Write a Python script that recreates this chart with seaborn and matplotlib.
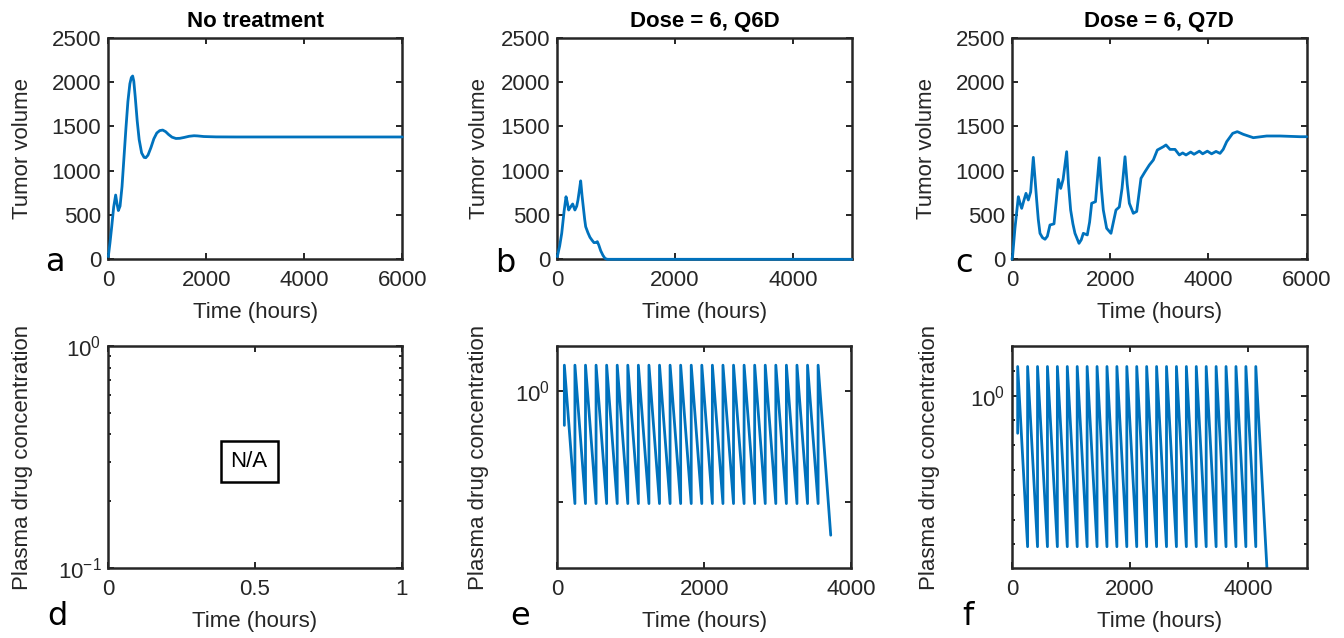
import numpy as np
import pandas as pd
import matplotlib
matplotlib.use("Agg")
import matplotlib.pyplot as plt
import seaborn as sns
from matplotlib.ticker import FixedLocator, NullLocator, NullFormatter

# ---------------- data ----------------
# (a) no treatment: tumor volume
a_time = [0, 35, 70, 110, 150, 180, 205, 240, 280, 320, 360, 400, 440, 470, 497,
          520, 550, 590, 630, 680, 730, 765, 810, 870, 930, 990, 1050, 1110, 1170,
          1230, 1300, 1380, 1460, 1550, 1650, 1750, 1820, 1950, 2200, 2600, 3200,
          4000, 5000, 6000]
a_volume = [30, 190, 370, 590, 725, 620, 550, 600, 820, 1150, 1480, 1780, 1980, 2050, 2068,
            2010, 1830, 1560, 1350, 1200, 1150, 1146, 1175, 1260, 1360, 1425, 1452, 1458, 1440,
            1408, 1378, 1363, 1365, 1375, 1388, 1394, 1392, 1385, 1381, 1380, 1380,
            1380, 1380, 1380]

# (b) dose = 6, Q6D: tumor volume
b_time = [0, 40, 75, 115, 148, 170, 193, 225, 261, 299, 330, 351, 375, 397, 420,
          441, 465, 482, 520, 555, 590, 623, 655, 680, 705, 737, 775, 810, 850, 2000, 5000]
b_volume = [30, 150, 293, 540, 706, 640, 556, 590, 624, 556, 600, 669, 780, 885, 720,
            593, 450, 368, 300, 248, 215, 188, 190, 199, 160, 97, 45, 10, 0, 0, 0]

# (c) dose = 6, Q7D: tumor volume
c_time = [0, 14, 60, 129, 165, 197, 240, 285, 332, 380, 434, 470, 502, 535, 570, 620,
          672, 720, 773, 855, 900, 943, 991, 1040, 1113, 1150, 1194, 1240, 1282, 1364,
          1410, 1452, 1533, 1580, 1622, 1700, 1777, 1820, 1859, 1927, 2015, 2117,
          2185, 2240, 2301, 2345, 2389, 2470, 2539, 2626, 2708, 2796, 2877, 2959,
          3081, 3135, 3217, 3319, 3407, 3475, 3543, 3638, 3706, 3814, 3882, 3977,
          4064, 4154, 4235, 4300, 4371, 4493, 4587, 4709, 4913, 5185, 5457, 5864, 6000]
c_volume = [0, 48, 350, 706, 630, 575, 660, 744, 669, 760, 1150, 900, 669, 450, 293, 245,
            226, 260, 387, 400, 650, 902, 800, 900, 1214, 850, 556, 400, 293, 180,
            220, 293, 275, 420, 632, 650, 1146, 800, 556, 350, 293, 556,
            590, 800, 1157, 850, 632, 519, 540, 913, 988, 1064, 1120, 1233,
            1270, 1290, 1240, 1240, 1177, 1200, 1177, 1210, 1185, 1220, 1190, 1220,
            1190, 1217, 1195, 1240, 1327, 1421, 1440, 1410, 1372, 1391, 1391, 1383, 1383]

# (e) dose = 6, Q6D: plasma drug concentration (sawtooth, one jump per dose)
e_dose_times = [96, 240, 384, 528, 672, 816, 960, 1104, 1248, 1392, 1536, 1680, 1824,
                1968, 2112, 2256, 2400, 2544, 2688, 2832, 2976, 3120, 3264, 3408, 3552]
e_start = 0.70
e_peak = 1.31
e_trough = 0.31
e_end_time = 3724
e_end = 0.223

# (f) dose = 6, Q7D: plasma drug concentration
f_dose_times = [96, 264, 432, 600, 768, 936, 1104, 1272, 1440, 1608, 1776, 1944, 2112,
                2280, 2448, 2616, 2784, 2952, 3120, 3288, 3456, 3624, 3792, 3960, 4128]
f_start = 0.705
f_peak = 1.31
f_trough = 0.246
f_end_time = 4330
f_end = 0.176

titles = ["No treatment", "Dose = 6, Q6D", "Dose = 6, Q7D"]
letters = ["a", "b", "c", "d", "e", "f"]
tumor_yticks = [0, 500, 1000, 1500, 2000, 2500]


def sawtooth(dose_times, start, peak, trough, end_t, end_v):
    t, v = [], []
    for i, d in enumerate(dose_times):
        t.append(d)
        v.append(start if i == 0 else trough)
        t.append(d)
        v.append(peak)
    t.append(end_t)
    v.append(end_v)
    return pd.DataFrame({"t": t, "c": v})


# ---------------- style ----------------
sns.set_theme(style="white")
plt.rcParams["font.family"] = ["Liberation Sans", "DejaVu Sans"]
plt.rcParams["mathtext.fontset"] = "custom"
plt.rcParams["mathtext.rm"] = "Liberation Sans"
plt.rcParams["mathtext.it"] = "Liberation Sans:italic"
plt.rcParams["mathtext.bf"] = "Liberation Sans:bold"
plt.rcParams["axes.unicode_minus"] = False

BLUE = "#0072BD"
DARK = "#262626"
FS = 16

W, H = 1344, 638
fig = plt.figure(figsize=(W / 100, H / 100), dpi=100)


def add_axes(l, t, r, b):
    return fig.add_axes([l / W, 1 - b / H, (r - l) / W, (b - t) / H])


boxes = [(108.3, 37.7, 402.3, 259.3), (557.3, 37.7, 851.7, 259.3), (1012, 37.7, 1306.7, 259.3),
         (108.3, 346, 401.7, 568), (557.3, 346, 851, 568), (1012, 346, 1307.3, 568)]
axes = [add_axes(*bx) for bx in boxes]


def style(ax):
    for s in ax.spines.values():
        s.set_visible(True)
        s.set_linewidth(1.8)
        s.set_color(DARK)
        s.set_zorder(2.5)
    ax.tick_params(which="both", direction="in", top=True, right=True, bottom=True, left=True,
                   color=DARK, labelcolor=DARK, labelsize=FS, width=1.4)
    ax.tick_params(which="major", length=4)
    ax.tick_params(which="minor", length=2.5)
    ax.tick_params(axis="x", which="both", pad=8)
    ax.tick_params(axis="y", which="both", pad=5)
    ax.grid(False)
    ax.set_facecolor("white")


# ---------- top row ----------
top_data = [(a_time, a_volume, 6000, [0, 2000, 4000, 6000]),
            (b_time, b_volume, 5000, [0, 2000, 4000]),
            (c_time, c_volume, 6000, [0, 2000, 4000, 6000])]
ylab_x_top = [-0.293, -0.263, -0.289]
for i, (tt, vv, xmax, xt) in enumerate(top_data):
    ax = axes[i]
    df = pd.DataFrame({"t": tt, "v": vv})
    sns.lineplot(data=df, x="t", y="v", ax=ax, color=BLUE, linewidth=2.0,
                 estimator=None, sort=False, zorder=3, clip_on=False)
    ax.set_xlim(0, xmax)
    ax.set_ylim(0, 2500)
    ax.set_xticks(xt)
    ax.set_yticks(tumor_yticks)
    style(ax)
    ax.set_title(titles[i], fontsize=FS, fontweight="bold", color="black", pad=8)
    ax.set_xlabel("Time (hours)", fontsize=FS, color=DARK)
    ax.set_ylabel("Tumor volume", fontsize=FS, color=DARK)
    ax.xaxis.set_label_coords(0.5, -0.238)
    ax.xaxis.label.set_va("center")
    ax.yaxis.set_label_coords(ylab_x_top[i], 0.5)
    ax.yaxis.label.set_va("center")

# ---------- bottom row ----------
ylab_x_bot = [-0.293, -0.27, -0.278]

# (d) no treatment: empty
ax = axes[3]
ax.set_yscale("log")
ax.set_xlim(0, 1)
ax.set_ylim(0.1, 1)
ax.set_xticks([0, 0.5, 1], labels=["0", "0.5", "1"])
ax.set_yticks([0.1, 1.0], labels=[r"$10^{-1}$", r"$10^{0}$"])
ax.yaxis.set_minor_formatter(NullFormatter())
style(ax)
ax.text(0.48, 0.48, "N/A", transform=ax.transAxes, ha="center", va="center",
        fontsize=FS, color="black",
        bbox=dict(boxstyle="square,pad=0.45", fc="white", ec="black", lw=1.8))

# (e)
ax = axes[4]
df_e = sawtooth(e_dose_times, e_start, e_peak, e_trough, e_end_time, e_end)
sns.lineplot(data=df_e, x="t", y="c", ax=ax, color=BLUE, linewidth=2.0,
             estimator=None, sort=False)
ax.set_yscale("log")
ax.set_xlim(0, 4000)
ax.set_ylim(10 ** -0.80, 10 ** 0.204)
ax.set_xticks([0, 2000, 4000])
ax.set_yticks([10 ** -0.5, 1.0], labels=["", r"$10^{0}$"])
ax.yaxis.set_minor_locator(NullLocator())
style(ax)

# (f)
ax = axes[5]
df_f = sawtooth(f_dose_times, f_start, f_peak, f_trough, f_end_time, f_end)
sns.lineplot(data=df_f, x="t", y="c", ax=ax, color=BLUE, linewidth=2.0,
             estimator=None, sort=False)
ax.set_yscale("log")
ax.set_xlim(0, 5000)
ax.set_ylim(10 ** -0.695, 10 ** 0.2)
ax.set_xticks([0, 2000, 4000])
ax.set_yticks([1.0], labels=[r"$10^{0}$"])
ax.yaxis.set_minor_locator(FixedLocator([10 ** 0.1] + [10 ** (-0.1 * k) for k in range(1, 7)]))
ax.yaxis.set_minor_formatter(NullFormatter())
style(ax)

for j, ax in enumerate(axes[3:]):
    ax.set_xlabel("Time (hours)", fontsize=FS, color=DARK)
    ax.set_ylabel("Plasma drug concentration", fontsize=FS, color=DARK)
    ax.xaxis.set_label_coords(0.5, -0.243)
    ax.xaxis.label.set_va("center")
    ax.yaxis.set_label_coords(ylab_x_bot[j], 0.5)
    ax.yaxis.label.set_va("center")

# panel letters
letter_pos = [(55, 271), (505, 271.5), (964, 271.5), (57, 625), (520, 625), (968, 625)]
for lab, (x, y) in zip(letters, letter_pos):
    fig.text(x / W, 1 - y / H, lab, ha="center", va="baseline", fontsize=23,
             family=["DejaVu Sans"], color="black")

fig.savefig("out.png", dpi=100, facecolor="white")
